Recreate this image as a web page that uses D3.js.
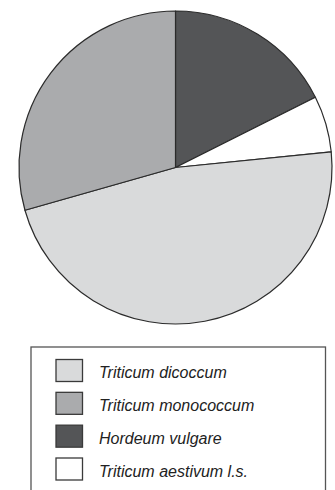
<!DOCTYPE html>
<html><head><meta charset="utf-8">
<script src="https://cdn.jsdelivr.net/npm/d3@7"></script>
<style>html,body{margin:0;padding:0;background:#fff;}svg{display:block;}</style>
</head><body>
<svg id="c" width="335" height="490"></svg>
<script>
const categories = ["Triticum dicoccum", "Triticum monococcum", "Hordeum vulgare", "Triticum aestivum l.s."];
const values = [47.2, 29.4, 17.6, 5.8];
const colors = ["#d9dadb", "#aaabad", "#545557", "#ffffff"];
const pieOrder = ["Hordeum vulgare", "Triticum aestivum l.s.", "Triticum dicoccum", "Triticum monococcum"];

const data = categories.map((c, i) => ({name: c, value: values[i], color: colors[i]}));
const svg = d3.select("#c");

const cx = 175.5, cy = 167.5, r = 156.5;
const pieData = pieOrder.map(n => data.find(d => d.name === n));
const pie = d3.pie().sort(null).value(d => d.value);
const arc = d3.arc().innerRadius(0).outerRadius(r);

svg.append("g").attr("transform", `translate(${cx},${cy})`)
  .selectAll("path").data(pie(pieData)).join("path")
  .attr("d", arc)
  .attr("fill", d => d.data.color)
  .attr("stroke", "#2b2b2b")
  .attr("stroke-width", 1.2)
  .attr("stroke-linejoin", "round");

// legend
const lg = svg.append("g");
lg.append("rect").attr("x", 31).attr("y", 347).attr("width", 294.5).attr("height", 170)
  .attr("fill", "none").attr("stroke", "#555").attr("stroke-width", 1.3);

const y = d3.scalePoint().domain(categories).range([370.5, 469]);
const rows = lg.selectAll("g.row").data(data).join("g").attr("class", "row")
  .attr("transform", d => `translate(0,${y(d.name)})`);
rows.append("rect").attr("x", 56).attr("y", -11).attr("width", 26.5).attr("height", 22)
  .attr("fill", d => d.color).attr("stroke", "#3a3a3a").attr("stroke-width", 1.3);
rows.append("text").attr("x", 99).attr("y", 7.5)
  .attr("font-family", "Liberation Sans, Arial, sans-serif")
  .attr("font-style", "italic").attr("font-size", 16).attr("fill", "#222")
  .text(d => d.name);
</script>
</body></html>
